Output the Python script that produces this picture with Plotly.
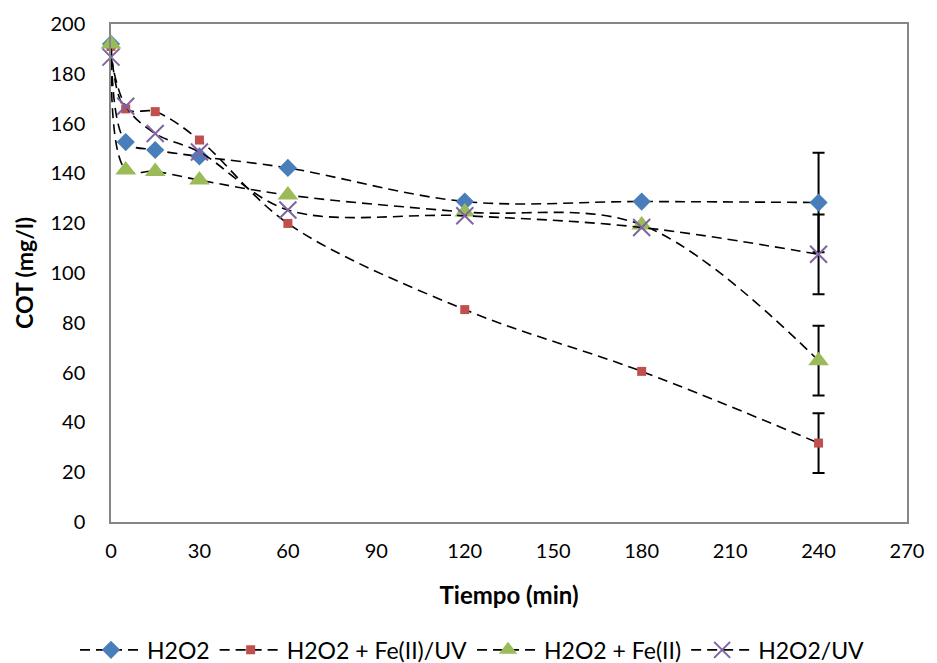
import plotly.graph_objects as go

tiempo = [0, 5, 15, 30, 60, 120, 180, 240]
h2o2 = [192, 152.6, 149.4, 146.8, 142.2, 128.7, 128.7, 128.3]
h2o2_fe_uv = [191, 165.9, 164.8, 153.4, 119.9, 85.3, 60.5, 31.7]
h2o2_fe = [192, 141.4, 140.8, 137.3, 131.3, 124.5, 119.3, 64.8]
h2o2_uv = [186.7, 167.0, 156.0, 148.6, 125.3, 123.0, 118.3, 107.5]
err_240 = [20, 12, 14, 16]

names = ["H2O2", "H2O2 + Fe(II)/UV", "H2O2 + Fe(II)", "H2O2/UV"]
series = [h2o2, h2o2_fe_uv, h2o2_fe, h2o2_uv]
colors = ["#4a7ebb", "#c0504d", "#9bbb59", "#8064a2"]
symbols = ["diamond", "square", "triangle-up", "x-thin-open"]
sizes = [14, 9, 18, 17]

FONT = "Lato"
fig = go.Figure()

# error bars at the last time point
for s, e in zip(series, err_240):
    fig.add_trace(go.Scatter(
        x=[tiempo[-1]], y=[s[-1]], mode="markers",
        marker=dict(size=1, opacity=0),
        error_y=dict(type="data", array=[e], color="black", thickness=2, width=6),
        showlegend=False, hoverinfo="skip"))

for name, s, c, sym, sz in zip(names, series, colors, symbols, sizes):
    marker = dict(symbol=sym, size=sz, color=c)
    if sym == "x-thin-open":
        marker["line"] = dict(color=c, width=2)
    fig.add_trace(go.Scatter(
        x=tiempo, y=s, name=name, mode="lines+markers",
        line=dict(color="black", width=1.6, dash="10px,6px", shape="spline", smoothing=1.0),
        marker=marker, cliponaxis=False))

fig.update_layout(
    width=929, height=655,
    margin=dict(l=103, r=30, t=16, b=141, autoexpand=False),
    paper_bgcolor="white", plot_bgcolor="white",
    font=dict(family=FONT, size=20, color="black"),
    showlegend=True,
    legend=dict(orientation="h", x=0.5, xanchor="center", xref="container",
                y=0.02, yanchor="middle", yref="container",
                font=dict(size=23, family=FONT), itemwidth=62, tracegroupgap=0),
    xaxis=dict(range=[0, 270], tickvals=list(range(0, 271, 30)),
               showline=True, linecolor="#868686", linewidth=1.5, mirror=True,
               ticks="", ticklabelstandoff=10, showgrid=False, zeroline=False, automargin=False,
               title=dict(text="<b>Tiempo (min)</b>", font=dict(size=24, family=FONT), standoff=26),
               tickfont=dict(size=20, family=FONT)),
    yaxis=dict(range=[0, 200], tickvals=list(range(0, 201, 20)),
               showline=True, linecolor="#868686", linewidth=1.5, mirror=True,
               ticks="", ticklabelstandoff=20, showgrid=False, zeroline=False, automargin=False,
               title=dict(text="<b>COT (mg/l)</b>", font=dict(size=23, family=FONT), standoff=10),
               tickfont=dict(size=20, family=FONT)),
)

fig.write_html("out.html")
